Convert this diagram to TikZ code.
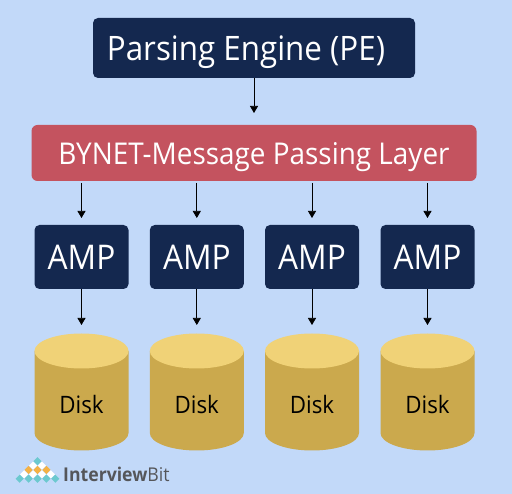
\documentclass[tikz,border=0pt]{standalone}
\usepackage{fontspec}
\setmainfont[FakeStretch=0.93]{Open Sans}
\usepackage{tikz}
\usetikzlibrary{arrows.meta}
\definecolor{bgblue}{HTML}{C2D9F9}
\definecolor{navybox}{HTML}{14284F}
\definecolor{redbox}{HTML}{C4535F}
\definecolor{disktop}{HTML}{F0D277}
\definecolor{diskside}{HTML}{CBA94D}
\definecolor{logoteal}{HTML}{6CC9CF}
\definecolor{logoorange}{HTML}{F4B246}
\definecolor{logotext}{HTML}{55565A}
\tikzset{
  navy/.style={fill=navybox,rounded corners=5pt,text=white,inner sep=0pt},
  arrow/.style={-{Triangle[length=7pt,width=8pt]},line width=0.7pt,black},
}
\begin{document}
\begin{tikzpicture}[x=1pt,y=-1pt]
  \fill[bgblue] (0,0) rectangle (512,494);
  \useasboundingbox (0,0) rectangle (512,494);
  \node[navy,minimum width=322pt,minimum height=60pt,text height=25pt,text depth=0.4pt,font=\fontsize{33.7}{36}\selectfont] (pe) at (254,48) {Parsing Engine (PE)\hspace*{16pt}};
  \node[fill=redbox,rounded corners=6pt,text=white,inner sep=0pt,minimum width=445pt,minimum height=56pt,text height=24pt,text depth=1pt,font=\fontsize{30}{34}\selectfont] (bynet) at (254,153) {BYNET-Message Passing Layer};
  \coordinate (peout) at (254,113);
  \draw[arrow] (pe) -- (peout);
  \foreach \i/\x in {1/81.5,2/196.8,3/312,4/427.5} {
    \node[navy,minimum width=94pt,minimum height=64pt,text height=25pt,text depth=0.4pt,font=\fontsize{34}{38}\selectfont] (amp\i) at (\x,257) {AMP};
    \fill[diskside] (\x-47,351) -- (\x-47,433) arc[start angle=180,end angle=360,x radius=47,y radius=-17.5] -- (\x+47,351) -- cycle;
    \fill[disktop] (\x,351) ellipse[x radius=47,y radius=17.5];
    \node[text height=17pt,text depth=1pt,font=\fontsize{24}{28}\selectfont,text=black] (disk\i) at (\x,406) {Disk};
    \coordinate (bus\i) at (\x,183);
    \coordinate (in\i) at (\x,218);
    \coordinate (top\i) at (\x,325);
    \draw[arrow] (bus\i) -- (in\i);
    \draw[arrow] (amp\i) -- (top\i);
  }
  % logo
  \foreach \c/\r/\col in {0/0/logoteal,
    -1/1/white,1/1/white,
    -2/2/logoorange,0/2/logoorange,2/2/logoorange,
    -3/3/white,-1/3/white,1/3/white,3/3/white,
    -4/4/logoteal,-2/4/logoteal,0/4/logoteal,2/4/logoteal,4/4/logoteal} {
    \fill[\col] (37.5+4.45*\c,461.3+4.35*\r-4.1) -- ++(4.1,4.1) -- ++(-4.1,4.1) -- ++(-4.1,-4.1) -- cycle;
  }
  \node[anchor=west,inner sep=0pt,text=logotext,font=\fontsize{19}{24}\selectfont] (logo) at (63,474) {\textbf{Interview}Bit};
\end{tikzpicture}
\end{document}
